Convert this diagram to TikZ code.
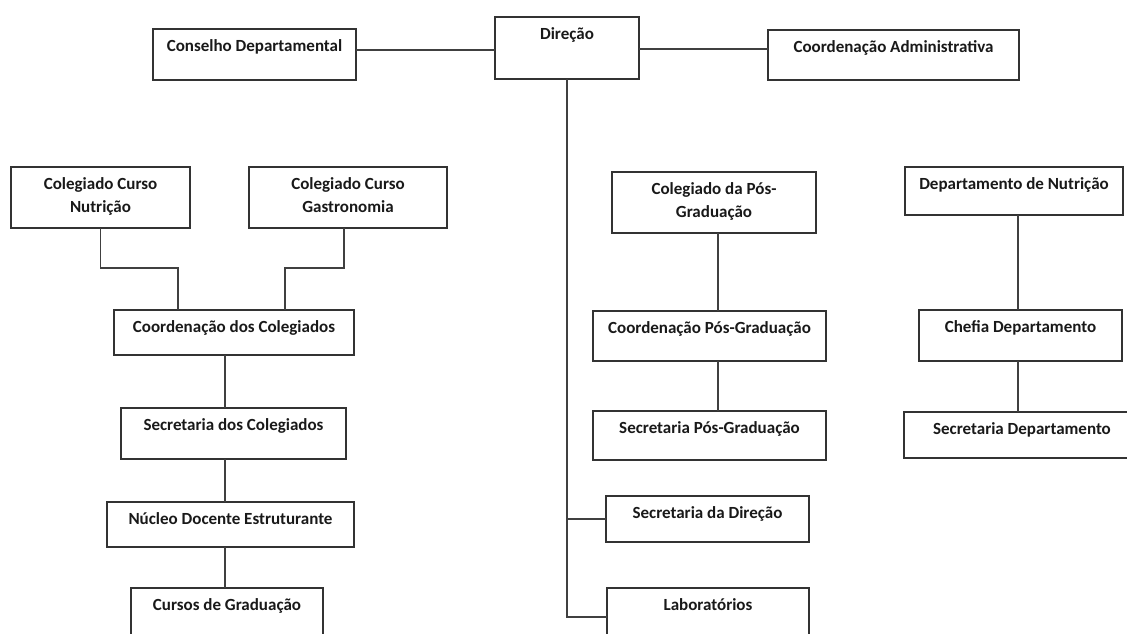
\documentclass[tikz,border=0pt]{standalone}
\usepackage{fontspec}
\setmainfont{Carlito}
\usetikzlibrary{calc}
\tikzset{
  obox/.style={draw=black!80, line width=1.3pt, fill=white, inner sep=0pt, outer sep=0pt},
  olbl/.style={anchor=north, inner sep=0pt, align=center, text=black!90,
    font=\fontsize{17}{23}\selectfont\bfseries},
  conn/.style={draw=black!75, line width=1.3pt}
}
\newcommand\orgbox[6]{%
  \node[obox, minimum width={(#4-#2)*1pt}, minimum height={(#5-#3)*1pt}, anchor=north west] (#1) at (#2,#3) {};
  \node[olbl] (#1-t) at ([yshift=-8pt]#1.north) {\rule{0pt}{14pt}#6};}
\begin{document}
\begin{tikzpicture}[x=1pt,y=-1pt]
\useasboundingbox (0,0) rectangle (1127,633);
\clip (0,0) rectangle (1127,633);
\fill[white] (0,0) rectangle (1127,633);
% junction coordinates
\coordinate (jn) at (178,268);
\coordinate (jg) at (285,268);
\coordinate (tl) at (225,0);
\coordinate (tp) at (718,0);
\coordinate (td) at (1018,0);
% boxes
\orgbox{cd}{153}{29}{356}{80}{Conselho Departamental}
\orgbox{dir}{495}{17}{639}{79}{Direção}
\orgbox{ca}{768}{30}{1019}{80}{Coordenação Administrativa}
\orgbox{cn}{11}{167}{190}{228}{Colegiado Curso\\Nutrição}
\orgbox{cg}{249}{167}{447}{228}{Colegiado Curso\\Gastronomia}
\orgbox{cc}{114}{310}{354}{355}{Coordenação dos Colegiados}
\orgbox{sc}{121}{408}{346}{459}{Secretaria dos Colegiados}
\orgbox{nd}{107}{502}{354}{547}{Núcleo Docente Estruturante}
\orgbox{cu}{131}{588}{323}{640}{Cursos de Graduação}
\orgbox{cp}{612}{172}{816}{233}{Colegiado da Pós-\\Graduação}
\orgbox{cpg}{593}{311}{826}{361}{Coordenação Pós-Graduação}
\orgbox{spg}{593}{411}{826}{460}{Secretaria Pós-Graduação}
\orgbox{sd}{606}{496}{809}{542}{Secretaria da Direção}
\orgbox{lab}{607}{588}{809}{646}{Laboratórios}
\orgbox{dn}{905}{167}{1123}{215}{Departamento de Nutrição}
\orgbox{ch}{919}{310}{1122}{361}{Chefia Departamento}
\orgbox{sdp}{904}{412}{1140}{458}{Secretaria Departamento}
% connectors
\draw[conn] (cd.east |- 0,50) -- (dir.west |- 0,50);
\draw[conn] (dir.east |- 0,49) -- (ca.west |- 0,49);
\draw[conn] (dir.south) -- (dir.south |- 0,617) -- (lab.west |- 0,617);
\draw[conn] (dir.south |- 0,519) -- (sd.west |- 0,519);
\draw[conn] (cn.south) |- (jn) -- (jn |- cc.north);
\draw[conn] (cg.south -| 344,0) |- (jg) -- (jg |- cc.north);
\draw[conn] (tl |- cc.south) -- (tl |- sc.north);
\draw[conn] (tl |- sc.south) -- (tl |- nd.north);
\draw[conn] (tl |- nd.south) -- (tl |- cu.north);
\draw[conn] (tp |- cp.south) -- (tp |- cpg.north);
\draw[conn] (tp |- cpg.south) -- (tp |- spg.north);
\draw[conn] (td |- dn.south) -- (td |- ch.north);
\draw[conn] (td |- ch.south) -- (td |- sdp.north);
\end{tikzpicture}
\end{document}
